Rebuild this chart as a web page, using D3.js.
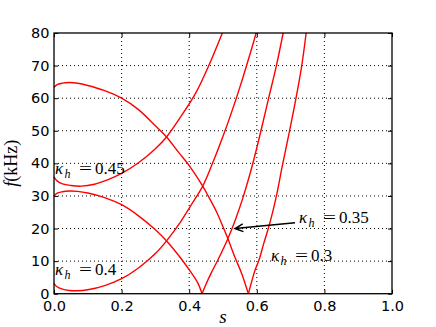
<!DOCTYPE html>
<html>
<head>
<meta charset="utf-8">
<script src="https://cdn.jsdelivr.net/npm/d3@7"></script>
<style>
  body { margin: 0; background: #fff; }
  svg { display: block; }
  .tick text { font-family: "DejaVu Sans", sans-serif; font-size: 14.5px; fill: #000; }
  .lbl { font-family: "Liberation Serif", serif; fill: #000; }
</style>
</head>
<body>
<div id="chart"></div>
<script>
// tick values
var xTicks = [0, 0.2, 0.4, 0.6, 0.8, 1.0];
var yTicks = [0, 10, 20, 30, 40, 50, 60, 70, 80];

// kappa_h = 0.45, lower branch
var sA = [0, 0.008, 0.025, 0.05, 0.08, 0.12, 0.16, 0.2, 0.25, 0.3, 0.333, 0.373, 0.42, 0.458, 0.498];
var fA = [35.9, 34.7, 33.7, 33.2, 33.0, 33.6, 35.0, 36.9, 40.2, 44.5, 48.1, 54.0, 61.7, 70.0, 80.0];

// kappa_h = 0.45, upper branch going down to zero
var sB = [0, 0.008, 0.025, 0.045, 0.07, 0.1, 0.15, 0.2, 0.25, 0.3, 0.333, 0.37, 0.4, 0.44, 0.456, 0.48, 0.499, 0.514, 0.536, 0.556, 0.575];
var fB = [63.3, 64.1, 64.6, 64.8, 64.6, 63.9, 62.3, 60.0, 56.5, 51.5, 48.1, 43.2, 39.3, 33.0, 30.0, 25.3, 20.8, 17.0, 11.0, 6.0, 0];

// rising again after the zero (kappa_h = 0.3 label)
var sB2 = [0.575, 0.585, 0.595, 0.607, 0.62, 0.634, 0.648, 0.661, 0.675, 0.696, 0.716, 0.733, 0.746];
var fB2 = [0, 3.8, 7.3, 10.5, 15.2, 20.0, 25.5, 31.5, 39.0, 49.5, 60.0, 70.0, 80.0];

// kappa_h = 0.4, lower branch
var sC = [0, 0.008, 0.025, 0.045, 0.068, 0.1, 0.15, 0.2, 0.25, 0.3, 0.333, 0.373, 0.402, 0.44, 0.469, 0.506, 0.53, 0.55, 0.57, 0.585, 0.598];
var fC = [3.2, 2.2, 1.4, 1.0, 0.9, 1.2, 2.5, 4.6, 7.9, 12.3, 16.2, 21.8, 26.6, 33.0, 40.0, 50.0, 57.1, 63.4, 70.1, 75.3, 80.0];

// kappa_h = 0.4, upper branch going down to zero
var sD = [0, 0.008, 0.025, 0.045, 0.07, 0.1, 0.15, 0.2, 0.25, 0.3, 0.333, 0.373, 0.405, 0.425, 0.438];
var fD = [29.9, 30.8, 31.3, 31.5, 31.4, 30.9, 29.5, 27.3, 23.9, 19.6, 16.2, 11.2, 6.6, 3.4, 0];

// rising again after the zero (kappa_h = 0.35 label)
var sD2 = [0.438, 0.45, 0.465, 0.487, 0.514, 0.537, 0.56, 0.587, 0.61, 0.635, 0.658, 0.678];
var fD2 = [0, 3.0, 6.3, 10.8, 16.8, 22.8, 29.8, 39.5, 49.0, 60.0, 70.0, 80.0];

var labels = ["0.45", "0.4", "0.35", "0.3"];

var W = 436, H = 327;
var margin = { top: 33, right: 44, bottom: 33.3, left: 54 };
var innerWidth = W - margin.left - margin.right,
    innerHeight = H - margin.top - margin.bottom;

var svg = d3.select("#chart").append("svg")
  .attr("width", W)
  .attr("height", H);

var g = svg.append("g")
  .attr("transform", "translate(" + margin.left + "," + margin.top + ")");

var x = d3.scaleLinear().domain([0, 1]).range([0, innerWidth]);
var y = d3.scaleLinear().domain([0, 80]).range([innerHeight, 0]);

// grid
g.append("g").selectAll("line")
  .data(xTicks.slice(1, -1))
  .enter().append("line")
  .attr("x1", function (d) { return x(d) }).attr("x2", function (d) { return x(d) })
  .attr("y1", 0).attr("y2", innerHeight)
  .attr("stroke", "#000").attr("stroke-width", 1).attr("stroke-dasharray", "1,3");

g.append("g").selectAll("line")
  .data(yTicks.slice(1, -1))
  .enter().append("line")
  .attr("y1", function (d) { return y(d) }).attr("y2", function (d) { return y(d) })
  .attr("x1", 0).attr("x2", innerWidth)
  .attr("stroke", "#000").attr("stroke-width", 1).attr("stroke-dasharray", "1,3");

// axes (ticks inward on all four sides)
var fmt = d3.format(".1f");
var xb = g.append("g").attr("transform", "translate(0," + innerHeight + ")")
  .call(d3.axisBottom(x).tickValues(xTicks).tickFormat(fmt).tickSizeInner(-4).tickSizeOuter(0).tickPadding(7.5));
var yl = g.append("g")
  .call(d3.axisLeft(y).tickValues(yTicks).tickSizeInner(-4).tickSizeOuter(0).tickPadding(4.5));
var xt = g.append("g")
  .call(d3.axisTop(x).tickValues(xTicks).tickSizeInner(-4).tickSizeOuter(0));
var yr = g.append("g").attr("transform", "translate(" + innerWidth + ",0)")
  .call(d3.axisRight(y).tickValues(yTicks).tickSizeInner(-4).tickSizeOuter(0));
xt.selectAll(".tick text").remove();
yr.selectAll(".tick text").remove();
[xb, yl, xt, yr].forEach(function (a) {
  a.select(".domain").remove();
  a.selectAll(".tick line").attr("stroke", "#000").attr("stroke-width", 1);
});

// curves
var line = d3.line()
  .x(function (d) { return x(d[0]) })
  .y(function (d) { return y(d[1]) })
  .curve(d3.curveCatmullRom.alpha(0.5));

var series = [[sA, fA], [sB, fB], [sB2, fB2], [sC, fC], [sD, fD], [sD2, fD2]];
series.forEach(function (p) {
  var pts = d3.zip(p[0], p[1]);
  g.append("path")
    .datum(pts)
    .attr("fill", "none")
    .attr("stroke", "#ff0000")
    .attr("stroke-width", 1.4)
    .attr("d", line);
});

// frame
g.append("rect")
  .attr("width", innerWidth).attr("height", innerHeight)
  .attr("fill", "none").attr("stroke", "#000").attr("stroke-width", 1.3);

// kappa labels
function kappa(px, py, val) {
  var t = g.append("text").attr("class", "lbl").attr("font-size", 17);
  t.append("tspan").attr("x", px).attr("y", py).attr("font-style", "italic").text("κ");
  t.append("tspan").attr("x", px + 9.5).attr("y", py + 4).attr("font-style", "italic").attr("font-size", 12).text("h");
  t.append("tspan").attr("x", px + 24).attr("y", py)
    .attr("textLength", 13).attr("lengthAdjust", "spacingAndGlyphs").text("=");
  t.append("tspan").attr("x", px + 40).attr("y", py).text(val);
}
kappa(x(0.003), y(36.7), labels[0]);
kappa(x(0.003), y(5.7), labels[1]);
kappa(x(0.725), y(21.7), labels[2]);
kappa(x(0.642), y(9.9), labels[3]);

// arrow
var ax0 = x(0.713), ay0 = y(21.8), ax1 = x(0.5355), ay1 = y(20.0);
var ang = Math.atan2(ay1 - ay0, ax1 - ax0);
var hl = 9, ha = 0.45;
g.append("path")
  .attr("d", "M" + ax0 + "," + ay0 + "L" + ax1 + "," + ay1 +
    "M" + (ax1 - hl * Math.cos(ang - ha)) + "," + (ay1 - hl * Math.sin(ang - ha)) +
    "L" + ax1 + "," + ay1 +
    "L" + (ax1 - hl * Math.cos(ang + ha)) + "," + (ay1 - hl * Math.sin(ang + ha)))
  .attr("fill", "none").attr("stroke", "#000").attr("stroke-width", 1.5);

// axis labels
g.append("text").attr("class", "lbl")
  .attr("x", innerWidth / 2).attr("y", innerHeight + 29)
  .attr("text-anchor", "middle").attr("font-size", 19).attr("font-style", "italic")
  .text("s");

var yt = svg.append("text").attr("class", "lbl")
  .attr("transform", "translate(17," + (margin.top + innerHeight / 2) + ") rotate(-90)")
  .attr("text-anchor", "middle").attr("font-size", 18);
yt.append("tspan").attr("font-style", "italic").text("f");
yt.append("tspan").text("(kHz)");
</script>
</body>
</html>
